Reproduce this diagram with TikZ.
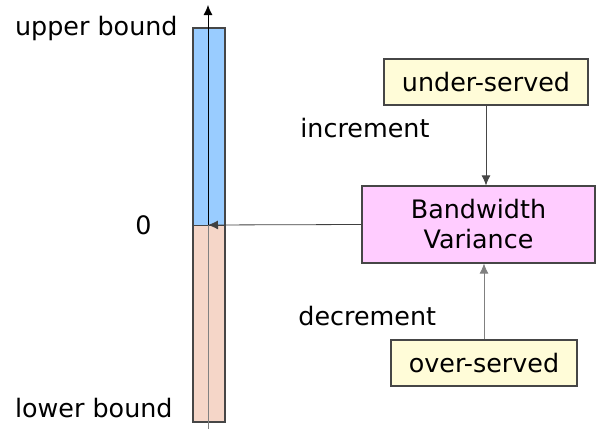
\documentclass[tikz,border=0pt]{standalone}
\usepackage{fontspec}
\setmainfont{DejaVu Sans}
\usetikzlibrary{calc, arrows.meta}

\definecolor{barblue}{RGB}{153,204,255}
\definecolor{barpink}{RGB}{245,214,200}
\definecolor{boxyellow}{RGB}{255,252,216}
\definecolor{boxpink}{RGB}{255,204,255}
\definecolor{edgegray}{RGB}{70,70,70}

\tikzset{
	state/.style={draw=edgegray, line width=0.6pt, inner sep=0pt, minimum height=23pt, font=\fontsize{12.7}{15}\selectfont},
	lbl/.style={inner sep=0pt, font=\fontsize{12.7}{15}\selectfont},
}

\begin{document}
\begin{tikzpicture}[x=0.5pt, y=-0.5pt, >={Latex[length=5pt, width=4.5pt]}]
	\useasboundingbox (0,0) rectangle (596,429);
	\def\zy{225}
	\fill[barblue] (193,28) rectangle (225,\zy);
	\fill[barpink] (193,\zy) rectangle (225,422);
	\draw[edgegray, line width=0.6pt] (193,28) rectangle (225,422);
	\draw[edgegray] (193,\zy) -- (225,\zy);

	\coordinate (axbot) at (208,429);
	\coordinate (axtop) at (208,5);
	\coordinate (zero) at (208,\zy);
	\draw[gray] (axbot) -- (zero);
	\draw[->] (zero) -- (axtop);

	\node[state, fill=boxpink, minimum width=116.5pt, minimum height=38.5pt, align=center] (bwv) at (478.5,224.5) {Bandwidth\\Variance};
	\node[state, fill=boxyellow, minimum width=102pt] (under) at (486,82) {under-served};
	\node[state, fill=boxyellow, minimum width=93pt] (over) at (484,363) {over-served};

	\draw[->, edgegray] (under.south) -- (under.south |- bwv.north);
	\draw[->, gray] (over.north) -- (over.north |- bwv.south);
	\draw[->, darkgray] (bwv.west) -- (zero);

	\node[lbl, anchor=base east] (ub) at (178,35) {upper bound};
	\node[lbl, anchor=base east] (lb) at (173,417) {lower bound};
	\node[lbl, anchor=base west] (z) at (135,234) {0};
	\node[lbl, anchor=base west] (inc) at (300,137) {increment};
	\node[lbl, anchor=base west] (dec) at (298,325) {decrement};
\end{tikzpicture}
\end{document}
